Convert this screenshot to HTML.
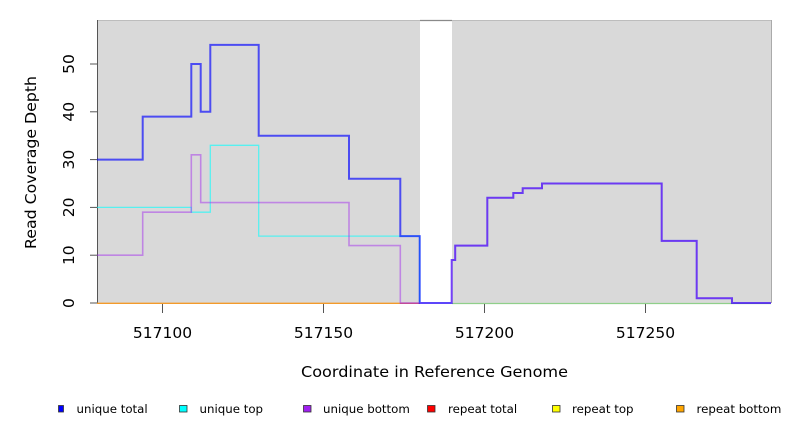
<!DOCTYPE html>
<html>
<head>
<meta charset="utf-8">
<style>
  html, body { margin: 0; padding: 0; background: #ffffff; }
  svg { display: block; }
  text { font-family: "DejaVu Sans", "Liberation Sans", sans-serif; fill: #000; }
</style>
</head>
<body>
<svg width="792" height="432" viewBox="0 0 792 432" xmlns="http://www.w3.org/2000/svg">
  <!-- plot background -->
  <rect x="97" y="20" width="674" height="283" fill="#d9d9d9"/>
  <!-- white gap -->
  <rect x="420" y="21" width="32" height="282" fill="#ffffff"/>
  <!-- borders -->
  <line x1="97" y1="20.5" x2="771" y2="20.5" stroke="#bdbdbd" stroke-width="1"/>
  <line x1="420" y1="20.5" x2="452" y2="20.5" stroke="#8a8a8a" stroke-width="1.2"/>
  <line x1="771.5" y1="20" x2="771.5" y2="303" stroke="#aaaaaa" stroke-width="1"/>
  <line x1="97.5" y1="20" x2="97.5" y2="303" stroke="#555555" stroke-width="1"/>

  <!-- zero lines of repeat series -->
  <line x1="452" y1="303.5" x2="771" y2="303.5" stroke="#8fcf8a" stroke-width="1.2"/>
  <line x1="97" y1="303.3" x2="400" y2="303.3" stroke="#f39a2a" stroke-width="1.3"/>
  <line x1="400" y1="303.3" x2="420" y2="303.3" stroke="#d4606a" stroke-width="1.3"/>

  <!-- unique top (cyan) -->
  <polyline fill="none" stroke="#00ffff" stroke-opacity="0.6" stroke-width="1.3"
    points="97,207.4 191.3,207.4 191.3,212.2 210.3,212.2 210.3,145.3 258.7,145.3 258.7,236.1 419.7,236.1 419.7,303 451.7,303"/>

  <!-- unique total (blue) -->
  <polyline fill="none" stroke="#0000ff" stroke-opacity="0.65" stroke-width="2"
    points="97,159.6 142.7,159.6 142.7,116.6 191.3,116.6 191.3,64 200.7,64 200.7,111.8 210.3,111.8 210.3,44.9 258.7,44.9 258.7,135.7 349,135.7 349,178.7 400.3,178.7 400.3,236.1 419.7,236.1 419.7,303 451.7,303 451.7,260 455.2,260 455.2,245.6 487.3,245.6 487.3,197.8 513.3,197.8 513.3,193 522.7,193 522.7,188.3 542,188.3 542,183.5 661.7,183.5 661.7,240.9 696.7,240.9 696.7,298.2 732,298.2 732,303 771,303"/>

  <!-- unique bottom (purple) -->
  <polyline fill="none" stroke="#a020f0" stroke-opacity="0.45" stroke-width="1.6"
    points="97,255.2 142.7,255.2 142.7,212.2 191.3,212.2 191.3,154.8 200.7,154.8 200.7,202.6 349,202.6 349,245.6 400.3,245.6 400.3,303 451.7,303 451.7,260 455.2,260 455.2,245.6 487.3,245.6 487.3,197.8 513.3,197.8 513.3,193 522.7,193 522.7,188.3 542,188.3 542,183.5 661.7,183.5 661.7,240.9 696.7,240.9 696.7,298.2 732,298.2 732,303 771,303"/>

  <!-- y ticks -->
  <g stroke="#555555" stroke-width="1">
    <line x1="90" y1="303" x2="97" y2="303"/>
    <line x1="90" y1="255.2" x2="97" y2="255.2"/>
    <line x1="90" y1="207.4" x2="97" y2="207.4"/>
    <line x1="90" y1="159.6" x2="97" y2="159.6"/>
    <line x1="90" y1="111.8" x2="97" y2="111.8"/>
    <line x1="90" y1="64" x2="97" y2="64"/>
  </g>
  <g font-size="15.5" text-anchor="middle">
    <text transform="translate(74,303) rotate(-90)">0</text>
    <text transform="translate(74,255.2) rotate(-90)">10</text>
    <text transform="translate(74,207.4) rotate(-90)">20</text>
    <text transform="translate(74,159.6) rotate(-90)">30</text>
    <text transform="translate(74,111.8) rotate(-90)">40</text>
    <text transform="translate(74,64) rotate(-90)">50</text>
  </g>

  <!-- x ticks -->
  <g stroke="#555555" stroke-width="1">
    <line x1="162.5" y1="304" x2="162.5" y2="313"/>
    <line x1="323.5" y1="304" x2="323.5" y2="313"/>
    <line x1="484.5" y1="304" x2="484.5" y2="313"/>
    <line x1="645.5" y1="304" x2="645.5" y2="313"/>
  </g>
  <g font-size="15.5" text-anchor="middle">
    <text x="162.5" y="338">517100</text>
    <text x="323.5" y="338">517150</text>
    <text x="484.5" y="338">517200</text>
    <text x="645.5" y="338">517250</text>
  </g>

  <!-- axis titles -->
  <text x="434.5" y="377" font-size="15.5" text-anchor="middle" textLength="267" lengthAdjust="spacingAndGlyphs">Coordinate in Reference Genome</text>
  <text transform="translate(36,162.5) rotate(-90)" font-size="15.5" text-anchor="middle" textLength="173" lengthAdjust="spacingAndGlyphs">Read Coverage Depth</text>

  <!-- legend -->
  <g stroke="#333333" stroke-width="0.8">
    <rect x="58.5" y="405.5" width="5" height="6.5" fill="#0000ff"/>
    <rect x="179.5" y="405.5" width="7.5" height="6.5" fill="#00ffff"/>
    <rect x="303.5" y="405.5" width="7.5" height="6.5" fill="#a020f0"/>
    <rect x="427.5" y="405.5" width="7.5" height="6.5" fill="#ff0000"/>
    <rect x="552.5" y="405.5" width="7.5" height="6.5" fill="#ffff00"/>
    <rect x="676.5" y="405.5" width="7.5" height="6.5" fill="#ffa500"/>
  </g>
  <g font-size="11.8">
    <text x="76.5" y="413">unique total</text>
    <text x="199.5" y="413">unique top</text>
    <text x="323" y="413">unique bottom</text>
    <text x="448" y="413">repeat total</text>
    <text x="572" y="413">repeat top</text>
    <text x="696.5" y="413">repeat bottom</text>
  </g>
</svg>
</body>
</html>
